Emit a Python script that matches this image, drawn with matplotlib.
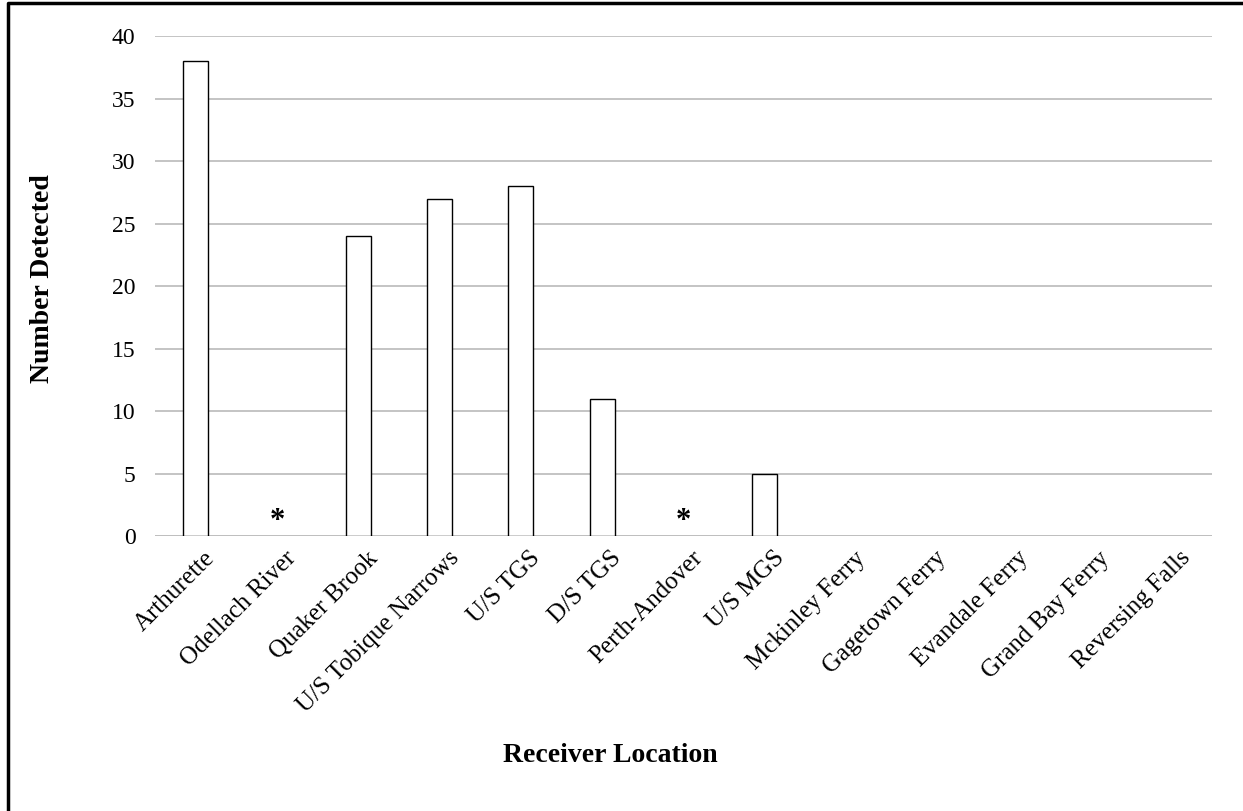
import matplotlib.pyplot as plt
import matplotlib.transforms as mtransforms
from matplotlib.lines import Line2D

plt.rcParams['font.family'] = ['Liberation Serif', 'DejaVu Serif']

locations = ['Arthurette', 'Odellach River', 'Quaker Brook', 'U/S Tobique Narrows',
             'U/S TGS', 'D/S TGS', 'Perth-Andover', 'U/S MGS', 'Mckinley Ferry',
             'Gagetown Ferry', 'Evandale Ferry', 'Grand Bay Ferry', 'Reversing Falls']
detected = [38, 0, 24, 27, 28, 11, 0, 5, 0, 0, 0, 0, 0]
starred = ['Odellach River', 'Perth-Andover']

fig = plt.figure(figsize=(12.43, 8.11), dpi=100)
ax = fig.add_axes([0.1247, 0.339, 0.8503, 0.6166])

x = list(range(len(locations)))
edges = ['black' if v > 0 else 'none' for v in detected]
ax.bar(x, detected, width=0.31, color='white', edgecolor=edges,
       linewidth=1.0, zorder=3)
for i, name in enumerate(locations):
    if name in starred:
        ax.text(i, 0.0, '*', ha='center', va='bottom', fontsize=22,
                fontweight='bold', zorder=4)

ax.set_xlim(-0.5, len(locations) - 0.5)
ax.set_ylim(0, 40)
ax.set_yticks(range(0, 41, 5))
ax.yaxis.grid(True, color='#bfbfbf', linewidth=1.3, zorder=0)
ax.set_axisbelow(True)
for s in ax.spines.values():
    s.set_visible(False)
ax.axhline(0, color='#bfbfbf', linewidth=1.3, zorder=1)
ax.tick_params(axis='both', length=0)
ax.tick_params(axis='y', pad=14, labelsize=17)
ax.tick_params(axis='x', pad=8, labelsize=18)
ax.set_xticks(x)
ax.set_xticklabels(locations, rotation=45, ha='right', rotation_mode='anchor')
shift = mtransforms.ScaledTranslation(8 / 100, 0, fig.dpi_scale_trans)
for lbl in ax.get_xticklabels():
    lbl.set_transform(lbl.get_transform() + shift)

fig.text(0.034, 0.657, 'Number Detected', rotation=90, ha='center', va='center',
         fontsize=20, fontweight='bold')
fig.text(0.491, 0.069, 'Receiver Location', ha='center', va='center',
         fontsize=20, fontweight='bold')

# border: only left and top edges are visible in the original
fig.lines.append(Line2D([0.0068, 0.0068, 1.0], [0.0, 0.9965, 0.9965],
                        transform=fig.transFigure, color='black', linewidth=2.5))

fig.savefig('out.png', dpi=100, facecolor='white')
